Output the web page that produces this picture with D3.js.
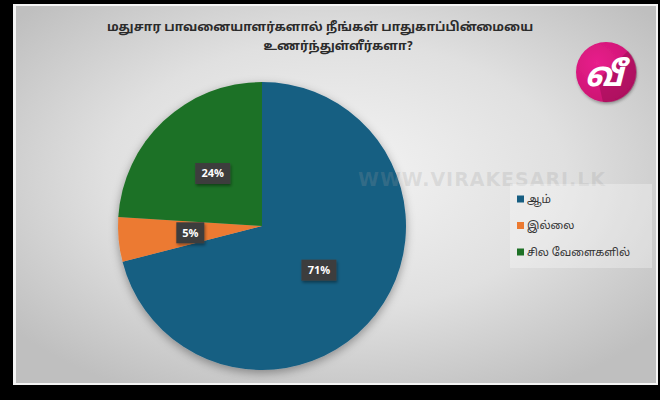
<!DOCTYPE html>
<html><head><meta charset="utf-8">
<script src="https://cdn.jsdelivr.net/npm/d3@7"></script>
<style>html,body{margin:0;padding:0;background:#000;}svg{display:block;}</style>
</head><body>
<svg id="c" width="660" height="400"></svg>
<script>
const categories = ["ஆம்", "இல்லை", "சில  வேளைகளில்"];
const values = [71, 5, 24];
const colors = ["#175e82", "#ec7a31", "#1e7126"];
const titleLines = ["மதுசார  பாவனையாளர்களால்  நீங்கள்  பாதுகாப்பின்மையை", "உணர்ந்துள்ளீர்களா?"];

const svg = d3.select("#c");
const defs = svg.append("defs");
const rg = defs.append("radialGradient").attr("id","bg").attr("cx","0.5").attr("cy","0.45").attr("r","0.65");
rg.append("stop").attr("offset","0").attr("stop-color","#f4f4f4");
rg.append("stop").attr("offset","0.55").attr("stop-color","#e0e0e0");
rg.append("stop").attr("offset","1").attr("stop-color","#bfbfbf");
const sh = defs.append("filter").attr("id","sh").attr("x","-20%").attr("y","-20%").attr("width","140%").attr("height","140%");
sh.append("feDropShadow").attr("dx",0).attr("dy",3).attr("stdDeviation",5).attr("flood-color","#000").attr("flood-opacity",0.35);
const lsh = defs.append("filter").attr("id","lsh").attr("x","-30%").attr("y","-30%").attr("width","160%").attr("height","160%");
lsh.append("feDropShadow").attr("dx",1).attr("dy",2).attr("stdDeviation",1.5).attr("flood-color","#000").attr("flood-opacity",0.4);
const pg = defs.append("radialGradient").attr("id","pk").attr("cx","0.35").attr("cy","0.35").attr("r","0.75");
pg.append("stop").attr("offset","0").attr("stop-color","#e8208c");
pg.append("stop").attr("offset","1").attr("stop-color","#c8106e");
const lgsh = defs.append("filter").attr("id","lgsh").attr("x","-20%").attr("y","-20%").attr("width","140%").attr("height","140%");
lgsh.append("feDropShadow").attr("dx",1).attr("dy",2).attr("stdDeviation",1.5).attr("flood-color","#000").attr("flood-opacity",0.3);

// frame
svg.append("rect").attr("x",13).attr("y",4).attr("width",645).attr("height",381).attr("fill","#f4f4f4");
svg.append("rect").attr("x",16).attr("y",6).attr("width",640).attr("height",377).attr("fill","url(#bg)");

// title
svg.append("g").selectAll("text").data(titleLines).join("text")
  .attr("x",(d,i)=> i===0 ? 320 : 338).attr("y",(d,i)=>31+i*19)
  .attr("text-anchor","middle").attr("font-family","'Noto Sans Tamil','Noto Sans',sans-serif")
  .attr("font-size",12.5).attr("font-weight","bold").attr("fill","#2b2b2b").text(d=>d);

// pie
const cx = 262, cy = 226, R = 144;
const pie = d3.pie().sort(null).value(d=>d)(values);
const arc = d3.arc().innerRadius(0).outerRadius(R);
const g = svg.append("g").attr("transform",`translate(${cx},${cy})`);
g.append("g").attr("filter","url(#sh)").selectAll("path").data(pie).join("path")
  .attr("d",arc).attr("fill",(d,i)=>colors[i]);

// watermark
svg.append("text").attr("x",358).attr("y",186).attr("font-family","'DejaVu Sans',sans-serif")
  .attr("font-size",19).attr("font-weight","bold").attr("fill","#9a9a9a").attr("fill-opacity",0.22)
  .attr("textLength",247).text("WWW.VIRAKESARI.LK");

// data labels
const lab = g.append("g").selectAll("g").data(pie).join("g")
  .attr("transform",d=>`translate(${arc.centroid(d)})`);
lab.append("rect").attr("x",d=>d.data<10?-14:-17.5).attr("y",-10.5)
  .attr("width",d=>d.data<10?28:35).attr("height",21).attr("fill","#3e3e3e").attr("filter","url(#lsh)");
lab.append("text").attr("text-anchor","middle").attr("dy","0.36em")
  .attr("font-family","'Open Sans',sans-serif").attr("font-weight","bold").attr("font-size",11)
  .attr("fill","#fff").text(d=>d.data+"%");

// legend
const lg = svg.append("g").attr("transform","translate(510,184)");
lg.append("rect").attr("width",142).attr("height",84).attr("fill","#ffffff").attr("fill-opacity",0.3);
const items = lg.selectAll("g").data(categories).join("g")
  .attr("transform",(d,i)=>`translate(7,${15+i*26.5})`);
items.append("rect").attr("y",-3.5).attr("width",7).attr("height",7).attr("fill",(d,i)=>colors[i]);
items.append("text").attr("x",10).attr("dy","0.36em").attr("font-family","'Noto Sans Tamil','Noto Sans',sans-serif")
  .attr("font-size",11).attr("fill","#333").text(d=>d);

// logo
const lgo = svg.append("g").attr("transform","translate(606,72)");
lgo.append("circle").attr("r",30).attr("fill","url(#pk)").attr("filter","url(#lgsh)");
lgo.append("path").attr("d","M-8,8 L22,-21 A30,30 0 0 1 -3,30 Z").attr("fill","#8e0a4c").attr("opacity",0.45);
lgo.append("text").attr("x",-2).attr("y",14).attr("text-anchor","middle").attr("font-family","'Noto Sans Tamil','Noto Sans',sans-serif")
  .attr("font-size",34).attr("font-weight","bold").attr("font-style","italic").attr("fill","#fff").text("வீ");
</script>
</body></html>
